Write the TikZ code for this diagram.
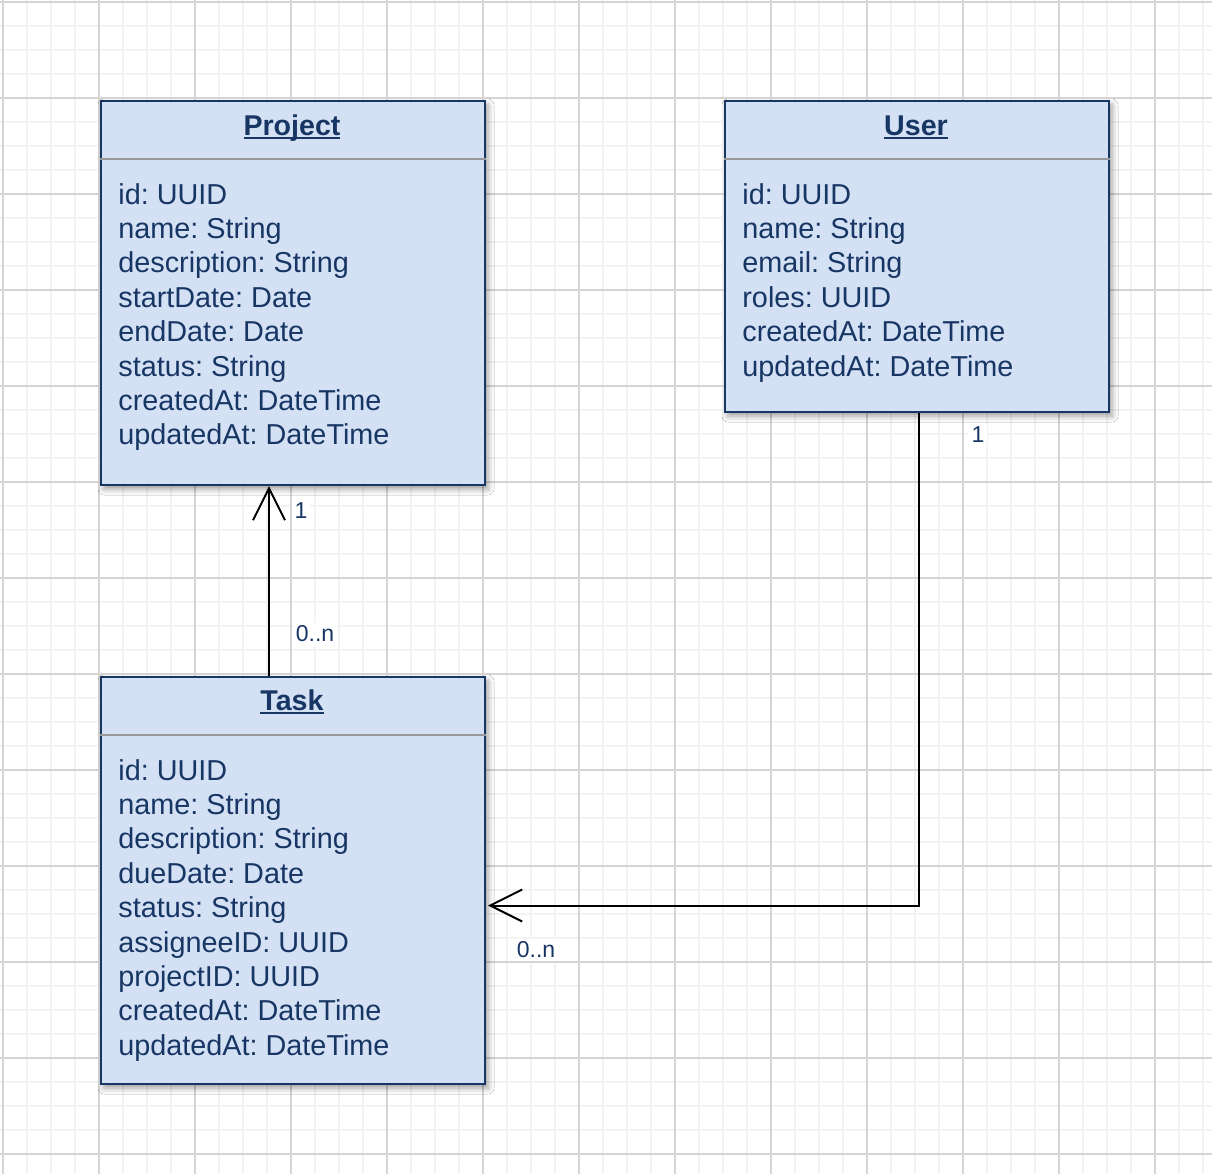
\documentclass[tikz,border=0pt]{standalone}
\usepackage{fontspec}
\setmainfont{Liberation Sans}
\usetikzlibrary{arrows.meta,shadows.blur}
\frenchspacing

\definecolor{classfill}{HTML}{D4E1F5}
\definecolor{classline}{HTML}{173664}
\definecolor{gridminor}{HTML}{F3F3F3}
\definecolor{gridmajor}{HTML}{D4D4D4}
\definecolor{sepgray}{HTML}{9A9A9A}

% underline that runs through descenders, as in the editor
\newcommand{\classname}[1]{\setbox0\hbox{#1}\rlap{\rule[-2.1pt]{\wd0}{1.2pt}}\box0}

\tikzset{
  classbox/.style={draw=classline, line width=1pt, fill=classfill,
    inner sep=0pt, anchor=north west, minimum width=192pt,
    blur shadow={shadow xshift=1.5pt, shadow yshift=-2pt,
      shadow blur radius=3pt, shadow opacity=40}},
  classtitle/.style={anchor=base, inner sep=0pt, text=classline,
    font=\fontsize{14.3}{17}\selectfont\bfseries},
  attr/.style={anchor=base west, inner sep=0pt, text=classline,
    font=\fontsize{14.4}{17}\selectfont},
  sepline/.style={draw=sepgray, line width=1pt},
  assoc/.style={draw=black, line width=1pt,
    -{Straight Barb[length=16pt,width=16pt]}},
  mult/.style={fill=white, inner sep=1.5pt, text=classline,
    font=\fontsize{11.5}{13}\selectfont},
}

\begin{document}
\begin{tikzpicture}[x=0.5pt,y=-0.5pt]
    \useasboundingbox[fill=white] (0,0) rectangle (1212,1174);
    % grid
    \foreach \g in {3,27,...,1211}
      \draw[gridminor,line width=0.8pt] (\g,0) -- (\g,1174);
    \foreach \g in {2,26,...,1174}
      \draw[gridminor,line width=0.8pt] (0,\g) -- (1212,\g);
    \foreach \g in {3,99,...,1211}
      \draw[gridmajor,line width=0.6pt] (\g,0) -- (\g,1174);
    \foreach \g in {2,98,...,1174}
      \draw[gridmajor,line width=0.6pt] (0,\g) -- (1212,\g);

    % classes
    \node[classbox, minimum height=192pt] (project) at (100,100) {};
    \node[classbox, minimum height=155.5pt] (user) at (724,100) {};
    \node[classbox, minimum height=203.5pt] (task) at (100,676) {};

    \node[classtitle] (project-title) at (292,135) {\classname{Project}};
    \node[classtitle] (user-title) at (916,135) {\classname{User}};
    \node[classtitle] (task-title) at (292,710) {\classname{Task}};

    \draw[sepline] ([yshift=-29.5pt]project.north west) -- ([yshift=-29.5pt]project.north east);
    \draw[sepline] ([yshift=-29.5pt]user.north west) -- ([yshift=-29.5pt]user.north east);
    \draw[sepline] ([yshift=-29.5pt]task.north west) -- ([yshift=-29.5pt]task.north east);

    \foreach \a [count=\i from 0] in {id: UUID, name: String,
        description: String, startDate: Date, endDate: Date,
        status: String, createdAt: DateTime, updatedAt: DateTime}
      \node[attr] (project-a\i) at (118,204+34.4*\i) {\a};
    \foreach \a [count=\i from 0] in {id: UUID, name: String,
        email: String, roles: UUID, createdAt: DateTime,
        updatedAt: DateTime}
      \node[attr] (user-a\i) at (742,204+34.4*\i) {\a};
    \foreach \a [count=\i from 0] in {id: UUID, name: String,
        description: String, dueDate: Date, status: String,
        assigneeID: UUID, projectID: UUID, createdAt: DateTime,
        updatedAt: DateTime}
      \node[attr] (task-a\i) at (118,780+34.4*\i) {\a};

    % associations
    \draw[assoc] ([xshift=-12pt]task.north) -- ([xshift=-12pt]project.south);
    \draw[assoc] ([xshift=1pt]user.south) |- ([xshift=1pt,yshift=-12.5pt]task.east);

    \node[mult] (m-project) at (301,511) {1};
    \node[mult] (m-task-up) at (315,634) {0..n};
    \node[mult] (m-user) at (978,435) {1};
    \node[mult] (m-task-right) at (536,950) {0..n};
\end{tikzpicture}
\end{document}
